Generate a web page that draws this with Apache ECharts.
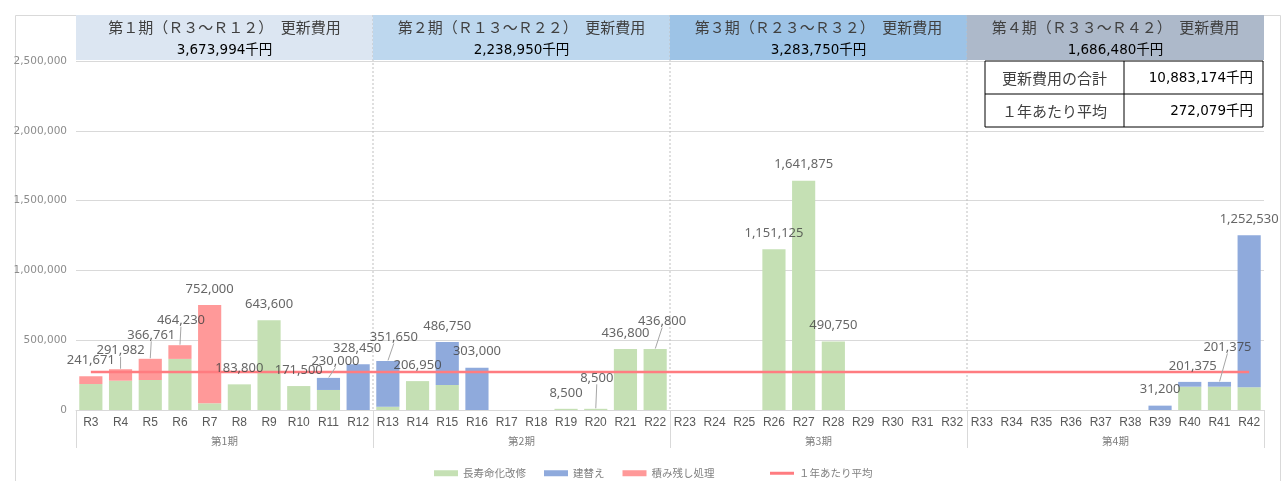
<!DOCTYPE html>
<html>
<head>
<meta charset="utf-8">
<script src="https://cdn.jsdelivr.net/npm/echarts@6/dist/echarts.min.js"></script>
<style>
html,body{margin:0;padding:0;background:#fff;}
#chart{width:1287px;height:481px;}
</style>
</head>
<body>
<div id="chart"></div>
<script>
const categories = ['R3','R4','R5','R6','R7','R8','R9','R10','R11','R12',
  'R13','R14','R15','R16','R17','R18','R19','R20','R21','R22',
  'R23','R24','R25','R26','R27','R28','R29','R30','R31','R32',
  'R33','R34','R35','R36','R37','R38','R39','R40','R41','R42'];
const periods = ['第1期','第2期','第3期','第4期'];
const periodTitles = ['第１期（Ｒ３～Ｒ１２）　更新費用','第２期（Ｒ１３～Ｒ２２）　更新費用','第３期（Ｒ２３～Ｒ３２）　更新費用','第４期（Ｒ３３～Ｒ４２）　更新費用'];
const periodTotals = [3673994, 2238950, 3283750, 1686480];
const summaryLabels = ['更新費用の合計','１年あたり平均'];
const summaryValues = [10883174, 272079];
const seriesNames = ['長寿命化改修','建替え','積み残し処理','１年あたり平均'];
// 長寿命化改修
const longLife = [186000,210000,215000,366000,48000,183800,643600,171500,143500,0,
  24000,206950,179000,0,0,0,8500,8500,436800,436800,
  0,0,0,1151125,1641875,490750,0,0,0,0,
  0,0,0,0,0,0,0,167000,167000,163000];
// 建替え
const rebuild = [0,0,0,0,0,0,0,0,86500,328450,
  327650,0,307750,303000,0,0,0,0,0,0,
  0,0,0,0,0,0,0,0,0,0,
  0,0,0,0,0,0,31200,34375,34375,1089530];
// 積み残し処理
const backlog = [55671,81982,151761,98230,704000,0,0,0,0,0,
  0,0,0,0,0,0,0,0,0,0,
  0,0,0,0,0,0,0,0,0,0,
  0,0,0,0,0,0,0,0,0,0];
const yearlyAverage = 272079;
const Y_MAX = 2500000;
const Y_INTERVAL = 500000;

// label layout tweaks (style only)
const labelShift = {1:[0,-3],2:[1,-8],3:[1,-9],8:[7,-1],9:[-1,0],10:[6,-8],17:[1,-15],19:[7,-12],37:[3,0],38:[8,-19]};
const leaderIdx = [1,2,3,8,10,17,19,38];

const JP = '"Noto Sans CJK JP","Noto Sans",sans-serif';
const NUM = '"DejaVu Sans","Noto Sans CJK JP",sans-serif';
const fmt = v => v.toLocaleString('en-US');
const totals = categories.map((c,i) => longLife[i] + rebuild[i] + backlog[i]);
const bandColors = ['#dce6f2','#bdd7ee','#9dc3e6','#adb9ca'];

function renderHeader(params, api) {
  const i = api.value(0);
  const top = api.coord([i, Y_MAX]);
  const base = api.coord([i, 0]);
  const w = api.size([1, 0])[0];
  const x0 = top[0] - w / 2;
  const y0 = top[1] - 46;
  const ch = [
    {type:'rect', shape:{x:x0, y:y0, width:w, height:45}, style:{fill:bandColors[i]}},
    {type:'text', style:{text:periodTitles[i], x:top[0], y:y0+12, align:'center', verticalAlign:'middle', fontSize:15, fontFamily:JP, fill:'#404040'}},
    {type:'text', style:{text:fmt(periodTotals[i])+'千円', x:top[0], y:y0+35, align:'center', verticalAlign:'middle', fontSize:13.5, fontFamily:NUM, fill:'#000'}}
  ];
  if (i < periods.length - 1) {
    ch.push({type:'line', shape:{x1:x0+w, y1:y0, x2:x0+w, y2:base[1]}, style:{stroke:'#bfbfbf', lineWidth:1, lineDash:[2,2]}});
  }
  if (i === periods.length - 1) {
    const tx = x0 + 18, tw = w - 19, ty = top[1], th = 66, split = x0 + 157;
    ch.push({type:'rect', shape:{x:tx, y:ty, width:tw, height:th}, style:{fill:'#fff', stroke:'#000', lineWidth:1}});
    ch.push({type:'line', shape:{x1:split, y1:ty, x2:split, y2:ty+th}, style:{stroke:'#000', lineWidth:1}});
    ch.push({type:'line', shape:{x1:tx, y1:ty+th/2, x2:tx+tw, y2:ty+th/2}, style:{stroke:'#000', lineWidth:1}});
    summaryLabels.forEach((lab, k) => {
      const cy = ty + th/4 + k*th/2 + 1;
      ch.push({type:'text', style:{text:lab, x:(tx+split)/2, y:cy, align:'center', verticalAlign:'middle', fontSize:15, fontFamily:JP, fill:'#404040'}});
      ch.push({type:'text', style:{text:fmt(summaryValues[k])+'千円', x:tx+tw-10, y:cy, align:'right', verticalAlign:'middle', fontSize:13.5, fontFamily:NUM, fill:'#000'}});
    });
  }
  return {type:'group', children:ch};
}

const chart = echarts.init(document.getElementById('chart'), null, {renderer:'canvas'});
const option = {
  animation:false,
  backgroundColor:'#fff',
  graphic:[{type:'rect', left:13, top:13, shape:{width:1265, height:480}, style:{fill:'none', stroke:'#d9d9d9', lineWidth:1}, silent:true, z:-1}],
  grid:{left:76, right:23, top:61, bottom:71},
  legend:[
    {data:seriesNames.slice(0,3), left:429, top:463, itemWidth:24, itemHeight:6, itemGap:18, icon:'rect',
     textStyle:{fontSize:10.5, color:'#808080', fontFamily:JP}},
    {data:[seriesNames[3]], left:765, top:463, itemWidth:24, itemHeight:3, icon:'rect',
     textStyle:{fontSize:10.5, color:'#808080', fontFamily:JP}}
  ],
  xAxis:[
    {type:'category', data:categories, boundaryGap:true,
     axisLine:{lineStyle:{color:'#d9d9d9'}}, axisTick:{show:false},
     axisLabel:{interval:0, fontSize:12, color:'#595959', margin:7, fontFamily:'"Liberation Sans",Arial,sans-serif'}},
    {type:'category', data:periods, position:'bottom', boundaryGap:true,
     axisLine:{show:false}, axisTick:{show:true, length:38, lineStyle:{color:'#d9d9d9'}},
     axisLabel:{fontSize:10.5, color:'#7f7f7f', margin:26, fontFamily:JP}, splitLine:{show:false}}
  ],
  yAxis:{type:'value', min:0, max:Y_MAX, interval:Y_INTERVAL,
    axisLine:{show:false}, axisTick:{show:false},
    axisLabel:{fontSize:10.5, color:'#8c8c8c', margin:9, fontFamily:'"DejaVu Sans",sans-serif', formatter:v=>fmt(v)},
    splitLine:{lineStyle:{color:'#d9d9d9', width:1}}},
  series:[
    {name:seriesNames[0], type:'bar', stack:'cost', data:longLife, barCategoryGap:'22%', itemStyle:{color:'#c5e0b4'}},
    {name:seriesNames[1], type:'bar', stack:'cost', data:rebuild, itemStyle:{color:'#8faadc'}},
    {name:seriesNames[2], type:'bar', stack:'cost', data:backlog, itemStyle:{color:'#ff9999'}},
    {name:seriesNames[3], type:'line', data:categories.map(()=>yearlyAverage), symbol:'none', z:5,
     lineStyle:{color:'#ff7c80', width:2.5}, itemStyle:{color:'#ff7c80'}},
    {name:'totals', type:'scatter', symbolSize:1, itemStyle:{color:'rgba(0,0,0,0)'}, z:6,
     data:totals.map((v,i)=> v>0 ? (leaderIdx.includes(i) ? {value:v, labelLine:{show:true}} : v) : null),
     label:{show:true, position:'top', distance:9, fontSize:13, color:'#404040', fontFamily:'"Noto Sans",sans-serif', formatter:p=>fmt(p.value)},
     labelLine:{show:false, lineStyle:{color:'#a6a6a6', width:1}},
     labelLayout:p=>{const s=labelShift[p.dataIndex]; return s?{dx:s[0],dy:s[1]}:{};}},
    {name:'header', type:'custom', xAxisIndex:1, yAxisIndex:0, clip:false, silent:true,
     data:periods.map((p,i)=>[i, Y_MAX]), encode:{x:0, y:1}, renderItem:renderHeader}
  ]
};
chart.setOption(option);
</script>
</body>
</html>
